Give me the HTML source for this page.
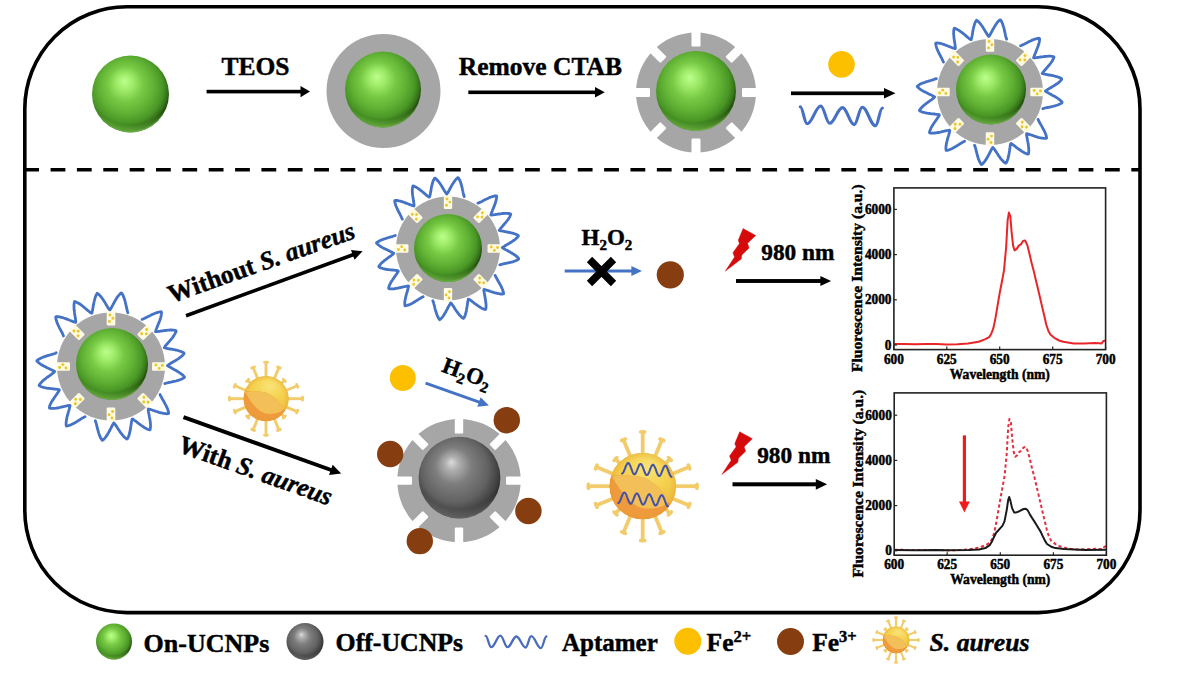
<!DOCTYPE html>
<html><head><meta charset="utf-8"><style>
html,body{margin:0;padding:0;background:#fff;}
svg{display:block;}
.b{font-family:"Liberation Serif",serif;font-weight:bold;fill:#000;stroke:#000;stroke-width:0.45px;}
.bi{font-family:"Liberation Serif",serif;font-weight:bold;font-style:italic;fill:#000;stroke:#000;stroke-width:0.45px;}
</style></head><body>
<svg width="1180" height="675" viewBox="0 0 1180 675">
<defs>
<radialGradient id="gs" cx="0.46" cy="0.43" r="0.58" fx="0.42" fy="0.33">
<stop offset="0" stop-color="#bcff8c"/><stop offset="0.18" stop-color="#a0ec6a"/><stop offset="0.4" stop-color="#77c944"/>
<stop offset="0.62" stop-color="#60b134"/><stop offset="0.8" stop-color="#4a9726"/><stop offset="0.9" stop-color="#36761a"/><stop offset="0.96" stop-color="#224e0d"/><stop offset="1" stop-color="#2c6414"/></radialGradient>
<radialGradient id="grim" cx="0.5" cy="0.3" r="0.75">
<stop offset="0.8" stop-color="#8ee05a" stop-opacity="0"/><stop offset="0.93" stop-color="#8ee05a" stop-opacity="0.7"/><stop offset="1" stop-color="#8ee05a" stop-opacity="0.2"/></radialGradient>
<radialGradient id="ks" cx="0.46" cy="0.43" r="0.58" fx="0.4" fy="0.31">
<stop offset="0" stop-color="#dcdcdc"/><stop offset="0.14" stop-color="#b0b0b0"/><stop offset="0.38" stop-color="#7e7e7e"/>
<stop offset="0.7" stop-color="#626262"/><stop offset="0.9" stop-color="#404040"/><stop offset="0.97" stop-color="#2e2e2e"/><stop offset="1" stop-color="#3a3a3a"/></radialGradient>
<radialGradient id="krim" cx="0.5" cy="0.3" r="0.75">
<stop offset="0.78" stop-color="#aaa" stop-opacity="0"/><stop offset="0.92" stop-color="#aaa" stop-opacity="0.4"/><stop offset="1" stop-color="#aaa" stop-opacity="0"/></radialGradient>
<radialGradient id="sab" cx="0.55" cy="0.35" r="0.6" fx="0.58" fy="0.3">
<stop offset="0" stop-color="#f9e378"/><stop offset="0.5" stop-color="#f5d250"/><stop offset="1" stop-color="#f0c040"/></radialGradient>
<radialGradient id="sarim" cx="0.5" cy="0.5" r="0.5">
<stop offset="0.8" stop-color="#e8a030" stop-opacity="0"/><stop offset="1" stop-color="#e09a30" stop-opacity="0.35"/></radialGradient>
</defs>
<rect width="1180" height="675" fill="#fff"/>
<rect x="24.8" y="6.8" width="1115.2" height="605.8" rx="102" ry="102" fill="none" stroke="#000" stroke-width="3.6"/>
<line x1="25" y1="169.7" x2="1140" y2="169.7" stroke="#000" stroke-width="3.6" stroke-dasharray="14.8 11.56" stroke-dashoffset="0.8"/>
<circle cx="130.5" cy="94" r="38.5" fill="url(#gs)"/>
<circle cx="130.5" cy="94" r="38.5" fill="url(#grim)"/>
<g transform="translate(206.60,91.60) rotate(0.000)"><rect x="0" y="-1.80" width="94.90" height="3.60" fill="#000"/><path d="M93.90,-5.60 L103.40,0 L93.90,5.60 Z" fill="#000"/></g>
<text x="255.5" y="74.6" class="b" font-size="25.5" text-anchor="middle">TEOS</text>
<circle cx="383.5" cy="91" r="57" fill="#a6a6a6"/>
<circle cx="383" cy="89.5" r="38" fill="url(#gs)"/>
<circle cx="383" cy="89.5" r="38" fill="url(#grim)"/>
<g transform="translate(468.30,92.30) rotate(0.000)"><rect x="0" y="-1.80" width="127.70" height="3.60" fill="#000"/><path d="M126.70,-5.20 L136.50,0 L126.70,5.20 Z" fill="#000"/></g>
<text x="540.4" y="74.7" class="b" font-size="25.5" text-anchor="middle">Remove CTAB</text>
<circle cx="696" cy="92.5" r="60" fill="#a6a6a6"/>
<g transform="translate(696,92.5) rotate(0)"><rect x="46.00" y="-4.50" width="15.50" height="9.00" rx="1.2" fill="#fff"/>
</g>
<g transform="translate(696,92.5) rotate(45)"><rect x="46.00" y="-4.50" width="15.50" height="9.00" rx="1.2" fill="#fff"/>
</g>
<g transform="translate(696,92.5) rotate(90)"><rect x="46.00" y="-4.50" width="15.50" height="9.00" rx="1.2" fill="#fff"/>
</g>
<g transform="translate(696,92.5) rotate(135)"><rect x="46.00" y="-4.50" width="15.50" height="9.00" rx="1.2" fill="#fff"/>
</g>
<g transform="translate(696,92.5) rotate(180)"><rect x="46.00" y="-4.50" width="15.50" height="9.00" rx="1.2" fill="#fff"/>
</g>
<g transform="translate(696,92.5) rotate(225)"><rect x="46.00" y="-4.50" width="15.50" height="9.00" rx="1.2" fill="#fff"/>
</g>
<g transform="translate(696,92.5) rotate(270)"><rect x="46.00" y="-4.50" width="15.50" height="9.00" rx="1.2" fill="#fff"/>
</g>
<g transform="translate(696,92.5) rotate(315)"><rect x="46.00" y="-4.50" width="15.50" height="9.00" rx="1.2" fill="#fff"/>
</g>
<circle cx="696" cy="91" r="40" fill="url(#gs)"/>
<circle cx="696" cy="91" r="40" fill="url(#grim)"/>
<circle cx="841.5" cy="64.4" r="13.3" fill="#fcc000"/>
<g transform="translate(791.00,93.30) rotate(0.000)"><rect x="0" y="-1.85" width="94.00" height="3.70" fill="#000"/><path d="M93.00,-5.20 L104.50,0 L93.00,5.20 Z" fill="#000"/></g>
<path d="M800.20,106.80 C802.82,106.80 804.48,123.80 807.10,123.80 C812.31,123.80 815.59,106.00 820.80,106.00 C824.14,106.00 826.26,123.30 829.60,123.30 C834.50,123.30 837.60,107.60 842.50,107.60 C846.95,107.60 849.75,124.60 854.20,124.60 C857.24,124.60 859.16,107.20 862.20,107.20 C867.25,107.20 870.45,125.80 875.50,125.80 C878.12,125.80 879.78,108.00 882.40,108.00" fill="none" stroke="#4670c4" stroke-width="3.1" stroke-linecap="round"/>
<circle cx="990" cy="92" r="53" fill="#a6a6a6"/>
<g transform="translate(990,92) rotate(0)"><rect x="40.28" y="-4.24" width="14.22" height="8.48" rx="1.2" fill="#fffbe2"/>
<circle cx="44.10" cy="-1.53" r="1.44" fill="#e9c62a"/><circle cx="47.28" cy="1.87" r="1.44" fill="#e9c62a"/><circle cx="50.46" cy="-1.02" r="1.44" fill="#e9c62a"/>
</g>
<g transform="translate(990,92) rotate(45)"><rect x="40.28" y="-4.24" width="14.22" height="8.48" rx="1.2" fill="#fffbe2"/>
<circle cx="44.10" cy="-1.53" r="1.44" fill="#e9c62a"/><circle cx="47.28" cy="1.87" r="1.44" fill="#e9c62a"/><circle cx="50.46" cy="-1.02" r="1.44" fill="#e9c62a"/>
</g>
<g transform="translate(990,92) rotate(90)"><rect x="40.28" y="-4.24" width="14.22" height="8.48" rx="1.2" fill="#fffbe2"/>
<circle cx="44.10" cy="-1.53" r="1.44" fill="#e9c62a"/><circle cx="47.28" cy="1.87" r="1.44" fill="#e9c62a"/><circle cx="50.46" cy="-1.02" r="1.44" fill="#e9c62a"/>
</g>
<g transform="translate(990,92) rotate(135)"><rect x="40.28" y="-4.24" width="14.22" height="8.48" rx="1.2" fill="#fffbe2"/>
<circle cx="44.10" cy="-1.53" r="1.44" fill="#e9c62a"/><circle cx="47.28" cy="1.87" r="1.44" fill="#e9c62a"/><circle cx="50.46" cy="-1.02" r="1.44" fill="#e9c62a"/>
</g>
<g transform="translate(990,92) rotate(180)"><rect x="40.28" y="-4.24" width="14.22" height="8.48" rx="1.2" fill="#fffbe2"/>
<circle cx="44.10" cy="-1.53" r="1.44" fill="#e9c62a"/><circle cx="47.28" cy="1.87" r="1.44" fill="#e9c62a"/><circle cx="50.46" cy="-1.02" r="1.44" fill="#e9c62a"/>
</g>
<g transform="translate(990,92) rotate(225)"><rect x="40.28" y="-4.24" width="14.22" height="8.48" rx="1.2" fill="#fffbe2"/>
<circle cx="44.10" cy="-1.53" r="1.44" fill="#e9c62a"/><circle cx="47.28" cy="1.87" r="1.44" fill="#e9c62a"/><circle cx="50.46" cy="-1.02" r="1.44" fill="#e9c62a"/>
</g>
<g transform="translate(990,92) rotate(270)"><rect x="40.28" y="-4.24" width="14.22" height="8.48" rx="1.2" fill="#fffbe2"/>
<circle cx="44.10" cy="-1.53" r="1.44" fill="#e9c62a"/><circle cx="47.28" cy="1.87" r="1.44" fill="#e9c62a"/><circle cx="50.46" cy="-1.02" r="1.44" fill="#e9c62a"/>
</g>
<g transform="translate(990,92) rotate(315)"><rect x="40.28" y="-4.24" width="14.22" height="8.48" rx="1.2" fill="#fffbe2"/>
<circle cx="44.10" cy="-1.53" r="1.44" fill="#e9c62a"/><circle cx="47.28" cy="1.87" r="1.44" fill="#e9c62a"/><circle cx="50.46" cy="-1.02" r="1.44" fill="#e9c62a"/>
</g>
<circle cx="991" cy="89.5" r="35" fill="url(#gs)"/>
<circle cx="991" cy="89.5" r="35" fill="url(#grim)"/>
<path d="M943.4,62.1 L943.1,61.3 L942.7,60.5 L942.3,59.6 L941.9,58.7 L941.4,57.7 L940.8,56.7 L940.3,55.6 L939.7,54.5 L939.1,53.4 L938.5,52.2 L938.0,51.1 L937.5,49.9 L937.0,48.8 L936.6,47.7 L936.3,46.6 L936.0,45.5 L935.8,44.5 L935.7,43.6 L936.0,43.0 L937.0,43.0 L938.0,43.1 L939.0,43.2 L940.1,43.4 L941.3,43.7 L942.4,44.0 L943.6,44.4 L944.8,44.8 L946.0,45.3 L947.2,45.7 L948.4,46.2 L949.5,46.6 L950.6,47.1 L951.6,47.5 L952.6,47.8 L953.5,48.2 L954.4,48.5 L955.2,48.7 L955.4,48.1 L955.3,47.2 L955.2,46.3 L955.1,45.3 L955.0,44.2 L954.8,43.1 L954.6,41.9 L954.4,40.7 L954.2,39.4 L954.0,38.1 L953.9,36.9 L953.8,35.6 L953.7,34.4 L953.6,33.2 L953.7,32.1 L953.7,31.0 L953.8,29.9 L954.0,29.0 L954.3,28.2 L955.2,28.5 L956.1,28.9 L957.1,29.3 L958.0,29.9 L959.0,30.5 L960.0,31.1 L961.0,31.9 L962.0,32.6 L963.0,33.4 L964.0,34.2 L965.0,35.0 L965.9,35.8 L966.8,36.6 L967.7,37.4 L968.5,38.0 L969.3,38.7 L970.1,39.2 L970.8,39.7 L971.2,39.6 L971.4,38.7 L971.7,37.8 L971.9,36.8 L972.1,35.8 L972.3,34.6 L972.5,33.5 L972.7,32.3 L972.9,31.0 L973.1,29.8 L973.4,28.5 L973.6,27.3 L974.0,26.1 L974.3,24.9 L974.7,23.8 L975.1,22.8 L975.5,21.9 L976.0,21.0 L976.5,20.2 L977.2,20.6 L977.9,21.2 L978.7,21.9 L979.4,22.7 L980.2,23.6 L980.9,24.5 L981.6,25.5 L982.4,26.5 L983.0,27.6 L983.7,28.7 L984.4,29.8 L985.0,30.8 L985.6,31.9 L986.2,32.8 L986.8,33.8 L987.3,34.6 L987.9,35.4 L988.4,36.1 L988.9,36.5 L989.4,35.8 L989.9,35.0 L990.4,34.1 L990.9,33.2 L991.4,32.2 L992.0,31.2 L992.5,30.1 L993.1,29.0 L993.8,27.9 L994.4,26.8 L995.1,25.7 L995.7,24.7 L996.4,23.7 L997.1,22.7 L997.8,21.9 L998.5,21.1 L999.3,20.4 L1000.0,19.8 L1000.6,20.0 L1001.1,20.8 L1001.6,21.7 L1002.1,22.7 L1002.5,23.8 L1002.9,24.9 L1003.3,26.0 L1003.6,27.2 L1004.0,28.5 L1004.3,29.7 L1004.5,30.9 L1004.8,32.2 L1005.1,33.3 L1005.3,34.5 L1005.5,35.6 L1005.8,36.6 L1006.0,37.5 L1006.3,38.4 L1006.6,39.1 M1020.5,45.8 L1021.3,45.5 L1022.1,45.1 L1023.0,44.7 L1023.9,44.3 L1024.9,43.8 L1026.0,43.2 L1027.1,42.7 L1028.2,42.1 L1029.3,41.5 L1030.5,41.0 L1031.6,40.4 L1032.8,39.9 L1033.9,39.5 L1035.0,39.1 L1036.1,38.8 L1037.2,38.5 L1038.2,38.4 L1039.1,38.2 L1039.6,38.7 L1039.6,39.6 L1039.5,40.6 L1039.3,41.7 L1039.1,42.8 L1038.8,44.0 L1038.4,45.1 L1038.0,46.3 L1037.6,47.5 L1037.1,48.7 L1036.6,49.9 L1036.2,51.1 L1035.7,52.2 L1035.3,53.3 L1034.8,54.3 L1034.5,55.3 L1034.1,56.2 L1033.8,57.1 L1033.6,57.9 L1034.4,57.8 L1035.3,57.8 L1036.3,57.7 L1037.4,57.5 L1038.5,57.4 L1039.6,57.2 L1040.8,57.0 L1042.1,56.8 L1043.3,56.7 L1044.6,56.5 L1045.9,56.4 L1047.1,56.3 L1048.3,56.2 L1049.5,56.2 L1050.7,56.2 L1051.7,56.3 L1052.7,56.5 L1053.7,56.7 L1054.0,57.2 L1053.7,58.1 L1053.2,59.1 L1052.7,60.0 L1052.2,61.0 L1051.5,62.0 L1050.8,63.0 L1050.0,64.0 L1049.3,65.0 L1048.4,66.0 L1047.6,66.9 L1046.8,67.9 L1046.0,68.8 L1045.2,69.7 L1044.5,70.5 L1043.8,71.3 L1043.2,72.1 L1042.7,72.8 L1042.2,73.5 L1043.0,73.8 L1043.9,74.0 L1044.8,74.2 L1045.9,74.4 L1047.0,74.6 L1048.1,74.8 L1049.3,75.0 L1050.5,75.2 L1051.8,75.5 L1053.1,75.7 L1054.3,76.0 L1055.5,76.3 L1056.7,76.6 L1057.8,77.0 L1058.9,77.4 L1059.9,77.8 L1060.8,78.3 L1061.6,78.8 L1061.7,79.4 L1061.1,80.1 L1060.4,80.9 L1059.7,81.6 L1058.8,82.4 L1057.9,83.1 L1056.9,83.8 L1055.8,84.5 L1054.8,85.2 L1053.7,85.9 L1052.6,86.6 L1051.5,87.2 L1050.5,87.8 L1049.5,88.4 L1048.5,89.0 L1047.6,89.5 L1046.8,90.1 L1046.0,90.6 L1045.4,91.1 L1046.1,91.6 L1046.8,92.1 L1047.6,92.6 L1048.6,93.1 L1049.5,93.6 L1050.6,94.2 L1051.6,94.8 L1052.7,95.4 L1053.9,96.0 L1055.0,96.6 L1056.1,97.3 L1057.1,97.9 L1058.1,98.6 L1059.1,99.3 L1060.0,100.1 L1060.8,100.8 L1061.5,101.5 L1062.1,102.2 L1062.0,102.9 L1061.2,103.4 L1060.3,103.9 L1059.3,104.3 L1058.3,104.8 L1057.2,105.2 L1056.0,105.5 L1054.8,105.9 L1053.6,106.2 L1052.3,106.5 L1051.1,106.8 L1049.8,107.0 L1048.7,107.3 L1047.5,107.5 L1046.4,107.7 L1045.4,108.0 L1044.4,108.2 L1043.6,108.5 L1042.8,108.7 M1038.1,119.4 L1038.4,120.2 L1038.8,121.0 L1039.2,121.8 L1039.7,122.7 L1040.3,123.6 L1040.8,124.6 L1041.4,125.6 L1042.0,126.7 L1042.6,127.8 L1043.2,128.9 L1043.8,130.0 L1044.4,131.1 L1044.9,132.2 L1045.3,133.2 L1045.7,134.3 L1046.1,135.3 L1046.3,136.3 L1046.5,137.3 L1046.6,138.2 L1045.8,138.4 L1044.9,138.4 L1043.9,138.3 L1042.8,138.2 L1041.7,138.1 L1040.6,137.8 L1039.4,137.6 L1038.2,137.3 L1037.0,136.9 L1035.8,136.6 L1034.6,136.2 L1033.5,135.8 L1032.4,135.4 L1031.3,135.0 L1030.2,134.7 L1029.3,134.4 L1028.3,134.1 L1027.5,133.9 L1026.7,133.7 L1026.5,134.3 L1026.6,135.1 L1026.7,136.1 L1026.9,137.1 L1027.1,138.1 L1027.3,139.2 L1027.5,140.3 L1027.7,141.5 L1028.0,142.7 L1028.2,144.0 L1028.4,145.2 L1028.5,146.4 L1028.7,147.6 L1028.7,148.8 L1028.8,149.9 L1028.8,151.0 L1028.7,152.1 L1028.6,153.1 L1028.4,154.0 L1027.8,154.2 L1026.9,153.9 L1026.0,153.5 L1025.0,153.1 L1024.0,152.6 L1023.0,152.0 L1022.0,151.4 L1021.0,150.7 L1020.0,150.0 L1018.9,149.3 L1017.9,148.6 L1017.0,147.8 L1016.0,147.1 L1015.1,146.4 L1014.2,145.7 L1013.4,145.1 L1012.6,144.5 L1011.8,144.0 L1011.1,143.5 L1010.7,143.7 L1010.5,144.5 L1010.3,145.4 L1010.1,146.4 L1010.0,147.4 L1009.8,148.5 L1009.6,149.7 L1009.5,150.9 L1009.3,152.1 L1009.1,153.3 L1008.9,154.5 L1008.6,155.7 L1008.4,156.9 L1008.1,158.1 L1007.8,159.2 L1007.4,160.2 L1007.0,161.2 L1006.6,162.1 L1006.1,162.9 L1005.5,163.2 L1004.8,162.7 L1004.0,162.1 L1003.2,161.4 L1002.5,160.6 L1001.7,159.8 L1000.9,158.8 L1000.2,157.9 L999.5,156.9 L998.7,155.9 L998.1,154.8 L997.4,153.8 L996.7,152.8 L996.1,151.8 L995.5,150.9 L994.9,150.0 L994.3,149.2 L993.7,148.4 L993.2,147.8 L992.7,147.5 L992.3,148.2 L991.8,148.9 L991.3,149.8 L990.8,150.7 L990.3,151.6 L989.8,152.7 L989.2,153.7 L988.7,154.8 L988.1,155.9 L987.5,157.0 L986.9,158.1 L986.2,159.1 L985.6,160.1 L984.9,161.1 L984.2,162.0 L983.6,162.8 L982.9,163.5 L982.2,164.2 L981.5,164.6 L980.9,163.8 L980.4,163.0 L979.9,162.1 L979.4,161.2 L979.0,160.1 L978.5,159.0 L978.1,157.9 L977.8,156.7 L977.4,155.5 L977.1,154.3 L976.8,153.1 L976.5,151.9 L976.2,150.8 L975.9,149.7 L975.7,148.7 L975.4,147.7 L975.1,146.8 L974.8,145.9 L974.5,145.2 M964.6,141.2 L963.9,141.6 L963.1,142.0 L962.3,142.4 L961.4,143.0 L960.5,143.5 L959.5,144.1 L958.5,144.8 L957.5,145.4 L956.5,146.1 L955.4,146.7 L954.3,147.3 L953.2,147.9 L952.2,148.5 L951.1,149.0 L950.1,149.4 L949.0,149.8 L948.1,150.1 L947.1,150.3 L946.2,150.5 L946.0,149.7 L945.9,148.8 L945.9,147.7 L946.0,146.7 L946.1,145.6 L946.3,144.4 L946.5,143.2 L946.8,142.0 L947.1,140.8 L947.4,139.6 L947.7,138.4 L948.0,137.3 L948.4,136.1 L948.7,135.0 L949.0,134.0 L949.3,133.0 L949.5,132.0 L949.7,131.1 L949.8,130.3 L949.2,130.2 L948.4,130.3 L947.5,130.5 L946.5,130.7 L945.5,130.9 L944.4,131.2 L943.2,131.4 L942.1,131.7 L940.9,132.0 L939.6,132.3 L938.4,132.5 L937.2,132.7 L936.0,132.9 L934.8,133.0 L933.7,133.1 L932.6,133.1 L931.5,133.1 L930.6,133.0 L929.6,132.9 L929.4,132.3 L929.7,131.4 L930.0,130.4 L930.4,129.4 L930.8,128.4 L931.3,127.4 L931.9,126.4 L932.6,125.3 L933.2,124.3 L933.9,123.2 L934.6,122.2 L935.3,121.2 L936.0,120.2 L936.7,119.3 L937.3,118.4 L937.9,117.5 L938.5,116.7 L938.9,115.9 L939.4,115.2 L939.2,114.7 L938.3,114.6 L937.4,114.4 L936.5,114.3 L935.4,114.2 L934.3,114.0 L933.2,113.9 L932.0,113.8 L930.8,113.7 L929.5,113.5 L928.3,113.4 L927.1,113.2 L925.9,112.9 L924.7,112.7 L923.6,112.4 L922.5,112.1 L921.5,111.7 L920.6,111.3 L919.8,110.9 L919.4,110.3 L919.9,109.6 L920.5,108.8 L921.2,108.0 L921.9,107.2 L922.8,106.4 L923.6,105.6 L924.6,104.8 L925.5,104.0 L926.5,103.3 L927.5,102.5 L928.5,101.8 L929.5,101.1 L930.5,100.4 L931.4,99.8 L932.2,99.2 L933.0,98.5 L933.7,98.0 L934.4,97.4 L934.7,96.9 L934.0,96.5 L933.2,96.0 L932.3,95.6 L931.4,95.1 L930.4,94.6 L929.4,94.2 L928.3,93.7 L927.2,93.1 L926.1,92.6 L925.0,92.0 L923.9,91.5 L922.8,90.9 L921.8,90.3 L920.8,89.6 L919.9,89.0 L919.0,88.3 L918.3,87.6 L917.6,87.0 L917.2,86.3 L917.9,85.7 L918.7,85.2 L919.5,84.6 L920.5,84.1 L921.5,83.6 L922.6,83.1 L923.7,82.7 L924.9,82.3 L926.0,81.9 L927.2,81.5 L928.4,81.2 L929.6,80.8 L930.7,80.5 L931.8,80.2 L932.8,79.9 L933.8,79.5 L934.7,79.2 L935.5,78.9 L936.3,78.6 " fill="none" stroke="#4472c4" stroke-width="2.8" stroke-linejoin="round" stroke-linecap="round"/>
<circle cx="111" cy="366.5" r="54" fill="#a6a6a6"/>
<g transform="translate(111,366.5) rotate(0)"><rect x="41.04" y="-4.32" width="14.46" height="8.64" rx="1.2" fill="#fffbe2"/>
<circle cx="44.93" cy="-1.56" r="1.47" fill="#e9c62a"/><circle cx="48.17" cy="1.90" r="1.47" fill="#e9c62a"/><circle cx="51.41" cy="-1.04" r="1.47" fill="#e9c62a"/>
</g>
<g transform="translate(111,366.5) rotate(45)"><rect x="41.04" y="-4.32" width="14.46" height="8.64" rx="1.2" fill="#fffbe2"/>
<circle cx="44.93" cy="-1.56" r="1.47" fill="#e9c62a"/><circle cx="48.17" cy="1.90" r="1.47" fill="#e9c62a"/><circle cx="51.41" cy="-1.04" r="1.47" fill="#e9c62a"/>
</g>
<g transform="translate(111,366.5) rotate(90)"><rect x="41.04" y="-4.32" width="14.46" height="8.64" rx="1.2" fill="#fffbe2"/>
<circle cx="44.93" cy="-1.56" r="1.47" fill="#e9c62a"/><circle cx="48.17" cy="1.90" r="1.47" fill="#e9c62a"/><circle cx="51.41" cy="-1.04" r="1.47" fill="#e9c62a"/>
</g>
<g transform="translate(111,366.5) rotate(135)"><rect x="41.04" y="-4.32" width="14.46" height="8.64" rx="1.2" fill="#fffbe2"/>
<circle cx="44.93" cy="-1.56" r="1.47" fill="#e9c62a"/><circle cx="48.17" cy="1.90" r="1.47" fill="#e9c62a"/><circle cx="51.41" cy="-1.04" r="1.47" fill="#e9c62a"/>
</g>
<g transform="translate(111,366.5) rotate(180)"><rect x="41.04" y="-4.32" width="14.46" height="8.64" rx="1.2" fill="#fffbe2"/>
<circle cx="44.93" cy="-1.56" r="1.47" fill="#e9c62a"/><circle cx="48.17" cy="1.90" r="1.47" fill="#e9c62a"/><circle cx="51.41" cy="-1.04" r="1.47" fill="#e9c62a"/>
</g>
<g transform="translate(111,366.5) rotate(225)"><rect x="41.04" y="-4.32" width="14.46" height="8.64" rx="1.2" fill="#fffbe2"/>
<circle cx="44.93" cy="-1.56" r="1.47" fill="#e9c62a"/><circle cx="48.17" cy="1.90" r="1.47" fill="#e9c62a"/><circle cx="51.41" cy="-1.04" r="1.47" fill="#e9c62a"/>
</g>
<g transform="translate(111,366.5) rotate(270)"><rect x="41.04" y="-4.32" width="14.46" height="8.64" rx="1.2" fill="#fffbe2"/>
<circle cx="44.93" cy="-1.56" r="1.47" fill="#e9c62a"/><circle cx="48.17" cy="1.90" r="1.47" fill="#e9c62a"/><circle cx="51.41" cy="-1.04" r="1.47" fill="#e9c62a"/>
</g>
<g transform="translate(111,366.5) rotate(315)"><rect x="41.04" y="-4.32" width="14.46" height="8.64" rx="1.2" fill="#fffbe2"/>
<circle cx="44.93" cy="-1.56" r="1.47" fill="#e9c62a"/><circle cx="48.17" cy="1.90" r="1.47" fill="#e9c62a"/><circle cx="51.41" cy="-1.04" r="1.47" fill="#e9c62a"/>
</g>
<circle cx="112" cy="364" r="36" fill="url(#gs)"/>
<circle cx="112" cy="364" r="36" fill="url(#grim)"/>
<path d="M63.5,336.0 L63.2,335.2 L62.9,334.4 L62.4,333.5 L62.0,332.5 L61.4,331.5 L60.9,330.5 L60.3,329.4 L59.7,328.3 L59.1,327.1 L58.6,326.0 L58.0,324.8 L57.5,323.6 L57.0,322.5 L56.6,321.3 L56.3,320.2 L56.0,319.2 L55.8,318.1 L55.7,317.2 L56.0,316.6 L57.0,316.6 L58.0,316.7 L59.1,316.8 L60.2,317.0 L61.3,317.3 L62.5,317.6 L63.7,318.0 L65.0,318.4 L66.2,318.9 L67.4,319.3 L68.6,319.8 L69.7,320.3 L70.8,320.7 L71.9,321.1 L72.9,321.5 L73.9,321.9 L74.8,322.1 L75.6,322.4 L75.8,321.8 L75.7,320.9 L75.6,319.9 L75.5,318.9 L75.3,317.8 L75.1,316.6 L74.9,315.4 L74.7,314.2 L74.5,312.9 L74.4,311.6 L74.2,310.3 L74.1,309.1 L74.0,307.8 L74.0,306.6 L74.0,305.4 L74.0,304.3 L74.2,303.3 L74.3,302.3 L74.7,301.5 L75.6,301.8 L76.5,302.2 L77.5,302.7 L78.4,303.2 L79.4,303.8 L80.5,304.5 L81.5,305.2 L82.5,306.0 L83.5,306.8 L84.5,307.6 L85.5,308.5 L86.5,309.3 L87.4,310.1 L88.3,310.8 L89.1,311.5 L89.9,312.2 L90.7,312.7 L91.4,313.2 L91.9,313.1 L92.1,312.2 L92.3,311.3 L92.5,310.3 L92.7,309.2 L92.9,308.1 L93.1,306.9 L93.3,305.6 L93.6,304.4 L93.8,303.1 L94.1,301.8 L94.3,300.6 L94.7,299.4 L95.0,298.2 L95.4,297.1 L95.8,296.0 L96.2,295.0 L96.7,294.1 L97.2,293.3 L97.9,293.7 L98.7,294.4 L99.5,295.1 L100.2,295.9 L101.0,296.8 L101.7,297.7 L102.5,298.8 L103.2,299.8 L103.9,300.9 L104.6,302.0 L105.3,303.1 L105.9,304.2 L106.5,305.2 L107.1,306.2 L107.7,307.2 L108.3,308.1 L108.8,308.9 L109.4,309.6 L109.9,309.9 L110.4,309.2 L110.9,308.4 L111.4,307.6 L111.9,306.6 L112.4,305.6 L113.0,304.6 L113.6,303.5 L114.2,302.3 L114.8,301.2 L115.5,300.1 L116.2,299.0 L116.8,297.9 L117.5,296.9 L118.3,295.9 L119.0,295.1 L119.7,294.3 L120.4,293.5 L121.2,292.9 L121.8,293.2 L122.3,294.0 L122.8,294.9 L123.3,295.9 L123.7,297.0 L124.1,298.1 L124.5,299.3 L124.9,300.5 L125.2,301.8 L125.5,303.0 L125.8,304.3 L126.1,305.5 L126.3,306.7 L126.6,307.9 L126.8,309.0 L127.1,310.0 L127.3,311.0 L127.6,311.9 L127.9,312.7 M142.1,319.4 L142.9,319.1 L143.7,318.7 L144.6,318.3 L145.6,317.9 L146.6,317.3 L147.7,316.8 L148.8,316.2 L149.9,315.7 L151.1,315.1 L152.2,314.5 L153.4,314.0 L154.6,313.5 L155.8,313.0 L156.9,312.6 L158.0,312.3 L159.1,312.0 L160.1,311.8 L161.1,311.7 L161.5,312.2 L161.5,313.1 L161.4,314.2 L161.2,315.3 L161.0,316.4 L160.7,317.6 L160.3,318.8 L159.9,320.0 L159.5,321.2 L159.0,322.4 L158.5,323.6 L158.0,324.8 L157.6,325.9 L157.1,327.0 L156.7,328.1 L156.3,329.1 L155.9,330.0 L155.7,330.9 L155.4,331.7 L156.3,331.7 L157.2,331.6 L158.2,331.5 L159.3,331.4 L160.4,331.2 L161.6,331.0 L162.8,330.9 L164.0,330.7 L165.3,330.5 L166.6,330.3 L167.9,330.2 L169.2,330.1 L170.4,330.0 L171.7,330.0 L172.8,330.1 L173.9,330.1 L174.9,330.3 L175.9,330.5 L176.2,331.1 L175.9,332.0 L175.4,332.9 L174.9,333.9 L174.3,334.9 L173.7,335.9 L173.0,336.9 L172.2,338.0 L171.4,339.0 L170.5,340.0 L169.7,341.0 L168.9,341.9 L168.0,342.9 L167.3,343.8 L166.5,344.6 L165.8,345.4 L165.2,346.2 L164.7,347.0 L164.2,347.7 L165.0,347.9 L165.9,348.1 L166.9,348.4 L167.9,348.6 L169.0,348.8 L170.2,349.0 L171.4,349.2 L172.7,349.4 L174.0,349.6 L175.2,349.9 L176.5,350.2 L177.8,350.5 L179.0,350.8 L180.1,351.2 L181.2,351.6 L182.2,352.0 L183.1,352.5 L184.0,353.0 L184.1,353.6 L183.5,354.4 L182.8,355.2 L182.0,355.9 L181.1,356.7 L180.1,357.4 L179.1,358.2 L178.1,358.9 L177.0,359.6 L175.9,360.3 L174.8,361.0 L173.7,361.6 L172.6,362.2 L171.6,362.8 L170.6,363.4 L169.7,364.0 L168.8,364.5 L168.1,365.1 L167.4,365.6 L168.1,366.1 L168.9,366.6 L169.7,367.1 L170.7,367.6 L171.7,368.1 L172.7,368.7 L173.8,369.3 L174.9,369.9 L176.1,370.5 L177.2,371.2 L178.3,371.9 L179.4,372.6 L180.4,373.3 L181.4,374.0 L182.3,374.7 L183.1,375.4 L183.8,376.2 L184.5,376.9 L184.4,377.6 L183.5,378.1 L182.6,378.6 L181.6,379.1 L180.6,379.5 L179.4,379.9 L178.2,380.3 L177.0,380.6 L175.8,381.0 L174.5,381.3 L173.2,381.5 L172.0,381.8 L170.8,382.1 L169.6,382.3 L168.5,382.5 L167.4,382.8 L166.5,383.0 L165.6,383.3 L164.8,383.6 M160.0,394.5 L160.3,395.2 L160.7,396.0 L161.2,396.9 L161.7,397.8 L162.2,398.7 L162.8,399.7 L163.4,400.8 L164.0,401.8 L164.6,402.9 L165.2,404.1 L165.8,405.2 L166.4,406.3 L166.9,407.4 L167.4,408.5 L167.8,409.6 L168.1,410.6 L168.4,411.7 L168.6,412.6 L168.7,413.5 L167.9,413.7 L166.9,413.8 L165.9,413.7 L164.8,413.6 L163.7,413.4 L162.5,413.2 L161.3,412.9 L160.1,412.6 L158.9,412.3 L157.7,411.9 L156.5,411.5 L155.3,411.1 L154.2,410.7 L153.1,410.4 L152.0,410.0 L151.0,409.7 L150.1,409.4 L149.2,409.2 L148.3,409.0 L148.2,409.6 L148.3,410.5 L148.4,411.4 L148.6,412.4 L148.8,413.5 L149.0,414.6 L149.2,415.8 L149.4,417.0 L149.7,418.2 L149.9,419.4 L150.1,420.7 L150.3,421.9 L150.4,423.2 L150.5,424.4 L150.5,425.5 L150.5,426.7 L150.4,427.7 L150.3,428.7 L150.1,429.6 L149.5,429.8 L148.6,429.6 L147.6,429.2 L146.7,428.8 L145.7,428.2 L144.6,427.7 L143.6,427.0 L142.6,426.3 L141.5,425.6 L140.5,424.9 L139.5,424.1 L138.5,423.4 L137.5,422.6 L136.6,421.9 L135.7,421.2 L134.8,420.6 L134.0,420.0 L133.3,419.5 L132.5,419.0 L132.1,419.2 L131.9,420.0 L131.7,420.9 L131.5,421.9 L131.3,423.0 L131.2,424.1 L131.0,425.3 L130.8,426.5 L130.6,427.7 L130.4,428.9 L130.2,430.2 L130.0,431.4 L129.7,432.7 L129.4,433.8 L129.1,435.0 L128.7,436.0 L128.3,437.0 L127.9,437.9 L127.4,438.8 L126.8,439.1 L126.0,438.5 L125.3,437.9 L124.5,437.2 L123.7,436.4 L122.9,435.5 L122.2,434.6 L121.4,433.6 L120.6,432.6 L119.9,431.6 L119.2,430.5 L118.5,429.5 L117.8,428.5 L117.2,427.5 L116.6,426.5 L116.0,425.6 L115.4,424.8 L114.8,424.0 L114.3,423.3 L113.8,423.0 L113.3,423.7 L112.8,424.5 L112.3,425.4 L111.8,426.3 L111.3,427.3 L110.8,428.3 L110.2,429.4 L109.7,430.5 L109.1,431.6 L108.5,432.7 L107.8,433.8 L107.2,434.9 L106.5,435.9 L105.8,436.9 L105.1,437.8 L104.4,438.6 L103.7,439.4 L103.0,440.0 L102.3,440.4 L101.8,439.7 L101.2,438.9 L100.7,438.0 L100.2,437.0 L99.8,435.9 L99.3,434.8 L98.9,433.6 L98.5,432.4 L98.2,431.2 L97.9,430.0 L97.5,428.8 L97.2,427.6 L96.9,426.4 L96.7,425.3 L96.4,424.2 L96.1,423.2 L95.8,422.3 L95.6,421.5 L95.3,420.7 M85.1,416.6 L84.4,417.0 L83.6,417.4 L82.7,417.9 L81.9,418.4 L80.9,419.0 L79.9,419.6 L78.9,420.3 L77.9,420.9 L76.8,421.6 L75.7,422.3 L74.6,422.9 L73.5,423.5 L72.4,424.1 L71.4,424.6 L70.3,425.0 L69.3,425.4 L68.3,425.7 L67.3,425.9 L66.4,426.1 L66.2,425.3 L66.1,424.3 L66.1,423.3 L66.2,422.2 L66.3,421.1 L66.5,419.9 L66.7,418.7 L66.9,417.5 L67.2,416.2 L67.6,415.0 L67.9,413.8 L68.2,412.6 L68.6,411.4 L68.9,410.3 L69.2,409.3 L69.5,408.2 L69.7,407.3 L69.9,406.4 L70.1,405.6 L69.5,405.4 L68.6,405.5 L67.7,405.7 L66.7,405.9 L65.6,406.2 L64.5,406.4 L63.3,406.7 L62.2,407.0 L60.9,407.2 L59.7,407.5 L58.4,407.8 L57.2,408.0 L56.0,408.2 L54.8,408.3 L53.6,408.4 L52.5,408.4 L51.4,408.4 L50.4,408.3 L49.5,408.2 L49.3,407.5 L49.5,406.6 L49.8,405.6 L50.2,404.6 L50.7,403.6 L51.2,402.6 L51.8,401.5 L52.5,400.4 L53.2,399.4 L53.9,398.3 L54.6,397.3 L55.3,396.3 L56.0,395.3 L56.7,394.3 L57.3,393.4 L57.9,392.5 L58.5,391.7 L59.0,390.9 L59.4,390.1 L59.2,389.7 L58.4,389.5 L57.4,389.3 L56.4,389.2 L55.4,389.1 L54.3,389.0 L53.1,388.8 L51.9,388.7 L50.6,388.6 L49.4,388.4 L48.1,388.3 L46.9,388.1 L45.6,387.8 L44.5,387.6 L43.3,387.3 L42.2,387.0 L41.2,386.6 L40.3,386.2 L39.4,385.8 L39.1,385.2 L39.6,384.4 L40.2,383.6 L40.9,382.8 L41.7,382.0 L42.5,381.1 L43.4,380.3 L44.3,379.5 L45.3,378.8 L46.3,378.0 L47.3,377.2 L48.4,376.5 L49.4,375.8 L50.3,375.1 L51.3,374.4 L52.1,373.8 L52.9,373.2 L53.7,372.6 L54.4,372.0 L54.6,371.5 L53.9,371.0 L53.1,370.6 L52.2,370.1 L51.3,369.7 L50.3,369.2 L49.2,368.7 L48.1,368.2 L47.0,367.7 L45.9,367.1 L44.7,366.5 L43.6,366.0 L42.5,365.3 L41.5,364.7 L40.5,364.1 L39.5,363.4 L38.7,362.7 L37.9,362.1 L37.2,361.4 L36.8,360.7 L37.5,360.1 L38.3,359.5 L39.2,359.0 L40.2,358.5 L41.2,358.0 L42.3,357.5 L43.5,357.0 L44.6,356.6 L45.8,356.2 L47.0,355.8 L48.3,355.4 L49.4,355.1 L50.6,354.8 L51.7,354.4 L52.8,354.1 L53.7,353.8 L54.7,353.5 L55.5,353.2 L56.2,352.8 " fill="none" stroke="#4472c4" stroke-width="2.8" stroke-linejoin="round" stroke-linecap="round"/>
<g transform="translate(186.00,315.80) rotate(-20.092)"><rect x="0" y="-1.80" width="178.54" height="3.60" fill="#000"/><path d="M177.54,-5.20 L188.04,0 L177.54,5.20 Z" fill="#000"/></g>
<g transform="translate(183.50,417.20) rotate(19.679)"><rect x="0" y="-1.95" width="157.48" height="3.90" fill="#000"/><path d="M156.48,-5.40 L167.48,0 L156.48,5.40 Z" fill="#000"/></g>
<text transform="translate(171.5,303.2) rotate(-19.5)" class="b" font-size="25.6">Without <tspan class="bi">S. aureus</tspan></text>
<text transform="translate(177,451.5) rotate(19.6)" class="b" font-size="25.6">With <tspan class="bi">S. aureus</tspan></text>
<circle cx="448" cy="248.5" r="52" fill="#a6a6a6"/>
<g transform="translate(448,248.5) rotate(0)"><rect x="39.52" y="-4.16" width="13.98" height="8.32" rx="1.2" fill="#fffbe2"/>
<circle cx="43.26" cy="-1.50" r="1.41" fill="#e9c62a"/><circle cx="46.38" cy="1.83" r="1.41" fill="#e9c62a"/><circle cx="49.50" cy="-1.00" r="1.41" fill="#e9c62a"/>
</g>
<g transform="translate(448,248.5) rotate(45)"><rect x="39.52" y="-4.16" width="13.98" height="8.32" rx="1.2" fill="#fffbe2"/>
<circle cx="43.26" cy="-1.50" r="1.41" fill="#e9c62a"/><circle cx="46.38" cy="1.83" r="1.41" fill="#e9c62a"/><circle cx="49.50" cy="-1.00" r="1.41" fill="#e9c62a"/>
</g>
<g transform="translate(448,248.5) rotate(90)"><rect x="39.52" y="-4.16" width="13.98" height="8.32" rx="1.2" fill="#fffbe2"/>
<circle cx="43.26" cy="-1.50" r="1.41" fill="#e9c62a"/><circle cx="46.38" cy="1.83" r="1.41" fill="#e9c62a"/><circle cx="49.50" cy="-1.00" r="1.41" fill="#e9c62a"/>
</g>
<g transform="translate(448,248.5) rotate(135)"><rect x="39.52" y="-4.16" width="13.98" height="8.32" rx="1.2" fill="#fffbe2"/>
<circle cx="43.26" cy="-1.50" r="1.41" fill="#e9c62a"/><circle cx="46.38" cy="1.83" r="1.41" fill="#e9c62a"/><circle cx="49.50" cy="-1.00" r="1.41" fill="#e9c62a"/>
</g>
<g transform="translate(448,248.5) rotate(180)"><rect x="39.52" y="-4.16" width="13.98" height="8.32" rx="1.2" fill="#fffbe2"/>
<circle cx="43.26" cy="-1.50" r="1.41" fill="#e9c62a"/><circle cx="46.38" cy="1.83" r="1.41" fill="#e9c62a"/><circle cx="49.50" cy="-1.00" r="1.41" fill="#e9c62a"/>
</g>
<g transform="translate(448,248.5) rotate(225)"><rect x="39.52" y="-4.16" width="13.98" height="8.32" rx="1.2" fill="#fffbe2"/>
<circle cx="43.26" cy="-1.50" r="1.41" fill="#e9c62a"/><circle cx="46.38" cy="1.83" r="1.41" fill="#e9c62a"/><circle cx="49.50" cy="-1.00" r="1.41" fill="#e9c62a"/>
</g>
<g transform="translate(448,248.5) rotate(270)"><rect x="39.52" y="-4.16" width="13.98" height="8.32" rx="1.2" fill="#fffbe2"/>
<circle cx="43.26" cy="-1.50" r="1.41" fill="#e9c62a"/><circle cx="46.38" cy="1.83" r="1.41" fill="#e9c62a"/><circle cx="49.50" cy="-1.00" r="1.41" fill="#e9c62a"/>
</g>
<g transform="translate(448,248.5) rotate(315)"><rect x="39.52" y="-4.16" width="13.98" height="8.32" rx="1.2" fill="#fffbe2"/>
<circle cx="43.26" cy="-1.50" r="1.41" fill="#e9c62a"/><circle cx="46.38" cy="1.83" r="1.41" fill="#e9c62a"/><circle cx="49.50" cy="-1.00" r="1.41" fill="#e9c62a"/>
</g>
<circle cx="448" cy="248" r="34" fill="url(#gs)"/>
<circle cx="448" cy="248" r="34" fill="url(#grim)"/>
<path d="M402.3,219.1 L402.0,218.4 L401.6,217.6 L401.2,216.7 L400.8,215.8 L400.3,214.8 L399.8,213.8 L399.2,212.8 L398.6,211.7 L398.1,210.6 L397.5,209.5 L397.0,208.3 L396.5,207.2 L396.0,206.1 L395.6,205.0 L395.3,203.9 L395.0,202.9 L394.9,201.9 L394.7,201.0 L395.0,200.4 L396.0,200.4 L396.9,200.5 L398.0,200.6 L399.1,200.9 L400.2,201.1 L401.3,201.4 L402.5,201.8 L403.7,202.2 L404.8,202.6 L406.0,203.1 L407.1,203.5 L408.3,204.0 L409.3,204.4 L410.3,204.8 L411.3,205.2 L412.2,205.5 L413.1,205.8 L413.9,206.0 L414.1,205.4 L414.0,204.6 L413.9,203.7 L413.8,202.7 L413.6,201.6 L413.4,200.5 L413.3,199.3 L413.1,198.1 L412.9,196.9 L412.7,195.7 L412.6,194.4 L412.4,193.2 L412.4,192.0 L412.3,190.8 L412.3,189.7 L412.4,188.6 L412.5,187.6 L412.7,186.7 L413.0,185.9 L413.9,186.2 L414.8,186.6 L415.7,187.0 L416.6,187.5 L417.6,188.1 L418.6,188.8 L419.6,189.5 L420.6,190.3 L421.6,191.0 L422.5,191.8 L423.5,192.6 L424.4,193.4 L425.3,194.2 L426.1,194.9 L426.9,195.6 L427.7,196.2 L428.4,196.7 L429.1,197.2 L429.6,197.0 L429.8,196.2 L430.0,195.3 L430.2,194.4 L430.4,193.3 L430.6,192.2 L430.8,191.1 L431.0,189.9 L431.2,188.7 L431.4,187.4 L431.7,186.2 L432.0,185.0 L432.3,183.8 L432.6,182.7 L433.0,181.6 L433.3,180.6 L433.8,179.7 L434.2,178.8 L434.7,178.1 L435.4,178.4 L436.2,179.0 L436.9,179.7 L437.6,180.5 L438.4,181.4 L439.1,182.3 L439.8,183.3 L440.5,184.3 L441.2,185.3 L441.8,186.4 L442.5,187.4 L443.1,188.5 L443.7,189.5 L444.3,190.5 L444.9,191.4 L445.4,192.2 L445.9,193.0 L446.4,193.7 L446.9,194.0 L447.4,193.3 L447.9,192.6 L448.4,191.7 L448.9,190.8 L449.4,189.9 L449.9,188.8 L450.5,187.8 L451.1,186.7 L451.7,185.6 L452.3,184.5 L453.0,183.5 L453.6,182.5 L454.3,181.5 L455.0,180.6 L455.7,179.7 L456.4,178.9 L457.1,178.2 L457.8,177.6 L458.4,177.9 L458.9,178.7 L459.4,179.6 L459.8,180.5 L460.3,181.5 L460.7,182.6 L461.0,183.8 L461.4,185.0 L461.7,186.2 L462.0,187.4 L462.3,188.6 L462.5,189.8 L462.8,190.9 L463.0,192.1 L463.2,193.1 L463.5,194.1 L463.7,195.0 L464.0,195.9 L464.2,196.6 M477.9,203.1 L478.7,202.9 L479.5,202.5 L480.4,202.1 L481.3,201.7 L482.3,201.2 L483.3,200.6 L484.4,200.1 L485.4,199.5 L486.6,199.0 L487.7,198.4 L488.8,197.9 L490.0,197.4 L491.1,197.0 L492.2,196.6 L493.3,196.3 L494.3,196.0 L495.3,195.9 L496.2,195.8 L496.7,196.2 L496.6,197.1 L496.5,198.1 L496.4,199.2 L496.1,200.2 L495.8,201.4 L495.5,202.5 L495.1,203.7 L494.7,204.9 L494.2,206.0 L493.8,207.2 L493.3,208.3 L492.8,209.4 L492.4,210.5 L492.0,211.5 L491.6,212.5 L491.3,213.4 L491.0,214.2 L490.8,215.0 L491.6,215.0 L492.5,214.9 L493.4,214.8 L494.5,214.7 L495.5,214.5 L496.7,214.4 L497.9,214.2 L499.1,214.0 L500.3,213.8 L501.6,213.7 L502.8,213.5 L504.0,213.4 L505.2,213.4 L506.4,213.4 L507.5,213.4 L508.6,213.5 L509.6,213.6 L510.5,213.8 L510.8,214.4 L510.4,215.3 L510.0,216.2 L509.6,217.1 L509.0,218.1 L508.4,219.0 L507.7,220.0 L506.9,221.0 L506.1,222.0 L505.3,223.0 L504.5,223.9 L503.7,224.8 L502.9,225.7 L502.2,226.6 L501.5,227.4 L500.8,228.2 L500.2,229.0 L499.7,229.7 L499.2,230.4 L500.0,230.6 L500.9,230.8 L501.8,231.0 L502.8,231.2 L503.9,231.4 L505.0,231.6 L506.2,231.8 L507.4,232.0 L508.6,232.3 L509.9,232.5 L511.1,232.8 L512.3,233.1 L513.4,233.4 L514.5,233.8 L515.6,234.2 L516.6,234.6 L517.4,235.0 L518.3,235.5 L518.4,236.1 L517.8,236.9 L517.1,237.6 L516.3,238.3 L515.5,239.1 L514.6,239.8 L513.6,240.5 L512.6,241.2 L511.6,241.9 L510.5,242.5 L509.4,243.2 L508.4,243.8 L507.3,244.4 L506.3,245.0 L505.4,245.5 L504.5,246.1 L503.7,246.6 L503.0,247.1 L502.3,247.6 L503.0,248.1 L503.7,248.6 L504.6,249.0 L505.5,249.6 L506.4,250.1 L507.4,250.6 L508.5,251.2 L509.6,251.8 L510.6,252.4 L511.7,253.0 L512.8,253.7 L513.8,254.3 L514.8,255.0 L515.8,255.7 L516.6,256.4 L517.4,257.1 L518.1,257.8 L518.7,258.5 L518.6,259.2 L517.9,259.7 L517.0,260.1 L516.0,260.6 L515.0,261.0 L513.9,261.4 L512.8,261.8 L511.6,262.1 L510.4,262.4 L509.1,262.7 L507.9,263.0 L506.7,263.2 L505.5,263.5 L504.4,263.7 L503.3,263.9 L502.3,264.2 L501.4,264.4 L500.6,264.7 L499.8,264.9 M495.2,275.4 L495.5,276.2 L495.9,276.9 L496.3,277.8 L496.8,278.6 L497.3,279.6 L497.9,280.5 L498.4,281.5 L499.0,282.5 L499.6,283.6 L500.2,284.7 L500.8,285.7 L501.3,286.8 L501.8,287.9 L502.3,289.0 L502.7,290.0 L503.0,291.0 L503.3,292.0 L503.4,292.9 L503.6,293.8 L502.8,294.0 L501.9,294.0 L500.9,294.0 L499.8,293.9 L498.7,293.7 L497.6,293.5 L496.5,293.2 L495.3,292.9 L494.1,292.6 L493.0,292.2 L491.8,291.8 L490.7,291.5 L489.6,291.1 L488.5,290.7 L487.5,290.4 L486.5,290.1 L485.6,289.8 L484.8,289.6 L484.0,289.4 L483.8,290.0 L483.9,290.8 L484.0,291.7 L484.2,292.7 L484.4,293.7 L484.6,294.8 L484.8,295.9 L485.0,297.1 L485.2,298.3 L485.4,299.5 L485.6,300.7 L485.8,301.9 L485.9,303.1 L486.0,304.2 L486.1,305.4 L486.1,306.4 L486.0,307.4 L485.9,308.4 L485.7,309.3 L485.1,309.5 L484.2,309.2 L483.3,308.9 L482.3,308.5 L481.4,308.0 L480.4,307.4 L479.4,306.8 L478.4,306.1 L477.4,305.4 L476.4,304.7 L475.4,304.0 L474.5,303.3 L473.5,302.5 L472.6,301.8 L471.8,301.2 L471.0,300.6 L470.2,300.0 L469.4,299.5 L468.7,299.1 L468.3,299.2 L468.1,300.0 L467.9,300.9 L467.7,301.9 L467.6,302.9 L467.4,304.0 L467.3,305.1 L467.1,306.2 L466.9,307.4 L466.7,308.6 L466.5,309.8 L466.3,311.0 L466.0,312.2 L465.7,313.3 L465.4,314.4 L465.1,315.4 L464.7,316.4 L464.3,317.3 L463.8,318.1 L463.2,318.4 L462.5,317.9 L461.7,317.3 L461.0,316.6 L460.2,315.8 L459.5,315.0 L458.7,314.1 L458.0,313.1 L457.3,312.2 L456.6,311.2 L455.9,310.2 L455.2,309.2 L454.6,308.2 L454.0,307.2 L453.4,306.3 L452.8,305.4 L452.2,304.6 L451.7,303.9 L451.2,303.2 L450.7,302.9 L450.2,303.6 L449.8,304.4 L449.3,305.2 L448.8,306.1 L448.3,307.0 L447.8,308.0 L447.3,309.0 L446.7,310.1 L446.1,311.2 L445.6,312.3 L444.9,313.3 L444.3,314.3 L443.7,315.3 L443.0,316.3 L442.4,317.1 L441.7,317.9 L441.0,318.7 L440.3,319.3 L439.6,319.7 L439.1,319.0 L438.6,318.2 L438.1,317.3 L437.6,316.4 L437.2,315.3 L436.8,314.3 L436.4,313.1 L436.0,312.0 L435.7,310.8 L435.3,309.6 L435.0,308.5 L434.7,307.3 L434.5,306.2 L434.2,305.1 L433.9,304.1 L433.7,303.1 L433.4,302.2 L433.1,301.4 L432.8,300.7 M423.1,296.8 L422.4,297.1 L421.6,297.5 L420.8,298.0 L419.9,298.5 L419.0,299.1 L418.1,299.7 L417.1,300.3 L416.1,300.9 L415.1,301.6 L414.0,302.2 L413.0,302.8 L411.9,303.4 L410.9,303.9 L409.8,304.4 L408.8,304.9 L407.8,305.2 L406.8,305.5 L405.9,305.7 L405.0,305.9 L404.8,305.1 L404.8,304.2 L404.8,303.2 L404.8,302.1 L404.9,301.1 L405.1,299.9 L405.3,298.8 L405.6,297.6 L405.9,296.4 L406.2,295.2 L406.5,294.0 L406.8,292.9 L407.2,291.8 L407.5,290.7 L407.8,289.7 L408.0,288.7 L408.2,287.8 L408.4,286.9 L408.6,286.1 L408.0,286.0 L407.2,286.1 L406.3,286.3 L405.3,286.5 L404.3,286.7 L403.2,286.9 L402.1,287.2 L401.0,287.5 L399.8,287.7 L398.6,288.0 L397.4,288.2 L396.2,288.4 L395.0,288.6 L393.9,288.8 L392.7,288.8 L391.7,288.9 L390.6,288.9 L389.7,288.8 L388.8,288.6 L388.6,288.0 L388.8,287.1 L389.1,286.2 L389.5,285.2 L389.9,284.2 L390.5,283.2 L391.0,282.2 L391.6,281.2 L392.3,280.2 L393.0,279.1 L393.7,278.1 L394.4,277.2 L395.0,276.2 L395.7,275.3 L396.3,274.4 L396.9,273.5 L397.4,272.7 L397.9,272.0 L398.3,271.2 L398.1,270.8 L397.3,270.6 L396.4,270.5 L395.5,270.4 L394.4,270.2 L393.4,270.1 L392.2,270.0 L391.1,269.9 L389.9,269.8 L388.7,269.6 L387.4,269.5 L386.2,269.3 L385.1,269.0 L383.9,268.8 L382.8,268.5 L381.8,268.2 L380.8,267.9 L379.9,267.5 L379.1,267.1 L378.8,266.5 L379.3,265.7 L379.8,265.0 L380.5,264.2 L381.2,263.4 L382.0,262.6 L382.9,261.8 L383.8,261.1 L384.7,260.3 L385.7,259.6 L386.7,258.8 L387.7,258.1 L388.6,257.4 L389.6,256.8 L390.5,256.1 L391.3,255.5 L392.1,254.9 L392.8,254.4 L393.4,253.8 L393.7,253.3 L393.0,252.9 L392.3,252.4 L391.4,252.0 L390.5,251.6 L389.5,251.1 L388.5,250.6 L387.5,250.1 L386.4,249.6 L385.3,249.1 L384.2,248.5 L383.1,248.0 L382.1,247.4 L381.1,246.8 L380.1,246.2 L379.2,245.5 L378.4,244.9 L377.6,244.2 L377.0,243.6 L376.5,242.9 L377.2,242.3 L378.0,241.8 L378.9,241.3 L379.8,240.8 L380.8,240.3 L381.9,239.8 L383.0,239.4 L384.1,239.0 L385.3,238.6 L386.4,238.2 L387.6,237.9 L388.7,237.5 L389.8,237.2 L390.9,236.9 L391.9,236.6 L392.9,236.3 L393.7,236.0 L394.5,235.7 L395.3,235.4 " fill="none" stroke="#4472c4" stroke-width="2.8" stroke-linejoin="round" stroke-linecap="round"/>
<g transform="translate(266,398.7) rotate(0.0)"><rect x="18.16" y="-1.45" width="19.64" height="2.90" fill="#f2cb6a"/><rect x="35.19" y="-2.90" width="2.61" height="5.80" rx="1.16" fill="#f2cb6a"/></g>
<g transform="translate(266,398.7) rotate(22.5)"><rect x="18.16" y="-1.45" width="16.92" height="2.90" fill="#f2cb6a"/><rect x="32.47" y="-2.90" width="2.61" height="5.80" rx="1.16" fill="#f2cb6a"/></g>
<g transform="translate(266,398.7) rotate(45.0)"><rect x="18.16" y="-1.45" width="9.07" height="2.90" fill="#f2cb6a"/><rect x="24.62" y="-2.90" width="2.61" height="5.80" rx="1.16" fill="#f2cb6a"/></g>
<g transform="translate(266,398.7) rotate(67.5)"><rect x="18.16" y="-1.45" width="16.92" height="2.90" fill="#f2cb6a"/><rect x="32.47" y="-2.90" width="2.61" height="5.80" rx="1.16" fill="#f2cb6a"/></g>
<g transform="translate(266,398.7) rotate(90.0)"><rect x="18.16" y="-1.45" width="19.64" height="2.90" fill="#f2cb6a"/><rect x="35.19" y="-2.90" width="2.61" height="5.80" rx="1.16" fill="#f2cb6a"/></g>
<g transform="translate(266,398.7) rotate(112.5)"><rect x="18.16" y="-1.45" width="16.92" height="2.90" fill="#f2cb6a"/><rect x="32.47" y="-2.90" width="2.61" height="5.80" rx="1.16" fill="#f2cb6a"/></g>
<g transform="translate(266,398.7) rotate(135.0)"><rect x="18.16" y="-1.45" width="9.07" height="2.90" fill="#f2cb6a"/><rect x="24.62" y="-2.90" width="2.61" height="5.80" rx="1.16" fill="#f2cb6a"/></g>
<g transform="translate(266,398.7) rotate(157.5)"><rect x="18.16" y="-1.45" width="16.92" height="2.90" fill="#f2cb6a"/><rect x="32.47" y="-2.90" width="2.61" height="5.80" rx="1.16" fill="#f2cb6a"/></g>
<g transform="translate(266,398.7) rotate(180.0)"><rect x="18.16" y="-1.45" width="19.64" height="2.90" fill="#f2cb6a"/><rect x="35.19" y="-2.90" width="2.61" height="5.80" rx="1.16" fill="#f2cb6a"/></g>
<g transform="translate(266,398.7) rotate(202.5)"><rect x="18.16" y="-1.45" width="16.92" height="2.90" fill="#f2cb6a"/><rect x="32.47" y="-2.90" width="2.61" height="5.80" rx="1.16" fill="#f2cb6a"/></g>
<g transform="translate(266,398.7) rotate(225.0)"><rect x="18.16" y="-1.45" width="9.07" height="2.90" fill="#f2cb6a"/><rect x="24.62" y="-2.90" width="2.61" height="5.80" rx="1.16" fill="#f2cb6a"/></g>
<g transform="translate(266,398.7) rotate(247.5)"><rect x="18.16" y="-1.45" width="16.92" height="2.90" fill="#f2cb6a"/><rect x="32.47" y="-2.90" width="2.61" height="5.80" rx="1.16" fill="#f2cb6a"/></g>
<g transform="translate(266,398.7) rotate(270.0)"><rect x="18.16" y="-1.45" width="19.64" height="2.90" fill="#f2cb6a"/><rect x="35.19" y="-2.90" width="2.61" height="5.80" rx="1.16" fill="#f2cb6a"/></g>
<g transform="translate(266,398.7) rotate(292.5)"><rect x="18.16" y="-1.45" width="16.92" height="2.90" fill="#f2cb6a"/><rect x="32.47" y="-2.90" width="2.61" height="5.80" rx="1.16" fill="#f2cb6a"/></g>
<g transform="translate(266,398.7) rotate(315.0)"><rect x="18.16" y="-1.45" width="9.07" height="2.90" fill="#f2cb6a"/><rect x="24.62" y="-2.90" width="2.61" height="5.80" rx="1.16" fill="#f2cb6a"/></g>
<g transform="translate(266,398.7) rotate(337.5)"><rect x="18.16" y="-1.45" width="16.92" height="2.90" fill="#f2cb6a"/><rect x="32.47" y="-2.90" width="2.61" height="5.80" rx="1.16" fill="#f2cb6a"/></g>
<clipPath id="sac1"><circle cx="266" cy="398.7" r="22.7"/></clipPath>
<g clip-path="url(#sac1)">
<circle cx="266" cy="398.7" r="22.7" fill="#ef9a3c"/>
<path d="M241.03,391.89 C252.38,390.53 261.46,391.44 266.91,393.02 C273.94,395.98 279.62,401.42 283.48,409.60 L290.97,414.59 L290.97,373.73 L241.03,373.73 Z" fill="url(#sab)"/>
<path d="M244.89,391.89 C252.38,390.53 261.46,391.44 266.91,393.02 C273.94,395.98 279.62,401.42 283.48,409.60 C279.62,413.68 270.54,414.59 265.32,413.45 C258.06,411.19 252.38,404.38 244.89,391.89 Z" fill="#f3bf58"/>
<circle cx="266" cy="398.7" r="22.7" fill="url(#sarim)"/>
</g>
<text x="581.5" y="244.6" class="b" font-size="23">H<tspan font-size="15" dy="5">2</tspan><tspan dy="-5">O</tspan><tspan font-size="15" dy="5">2</tspan></text>
<g transform="translate(564.70,271.00) rotate(0.000)"><rect x="0" y="-1.50" width="67.70" height="3.00" fill="#4472c4"/><path d="M66.70,-5.00 L77.20,0 L66.70,5.00 Z" fill="#4472c4"/></g>
<path d="M589.5,259.5 L613.5,283.5 M613.5,259.5 L589.5,283.5" stroke="#000" stroke-width="7.5" stroke-linecap="butt"/>
<circle cx="670.3" cy="274.8" r="13.6" fill="#863d0f"/>
<path d="M743.09,228.51 L755.72,235.44 L747.57,243.34 L749.04,247.90 L741.87,254.98 L741.22,259.05 L725.18,271.27 L734.54,257.02 L732.92,252.78 L739.43,243.58 L738.21,240.32 Z" fill="#d50a0a" stroke="#d50a0a" stroke-width="0.4" stroke-linejoin="round"/>
<text x="761.3" y="259.8" class="b" font-size="23.3">980 nm</text>
<g transform="translate(736.00,281.00) rotate(0.000)"><rect x="0" y="-1.95" width="85.40" height="3.90" fill="#000"/><path d="M84.40,-5.10 L95.10,0 L84.40,5.10 Z" fill="#000"/></g>
<circle cx="402.8" cy="378" r="13" fill="#fcc000"/>
<g transform="translate(425.60,383.20) rotate(19.407)"><rect x="0" y="-1.50" width="57.61" height="3.00" fill="#4472c4"/><path d="M56.61,-5.00 L67.11,0 L56.61,5.00 Z" fill="#4472c4"/></g>
<text transform="translate(440.8,371.2) rotate(20.5)" class="b" font-size="22.6">H<tspan font-size="15" dy="5">2</tspan><tspan dy="-5">O</tspan><tspan font-size="15" dy="5">2</tspan></text>
<circle cx="459" cy="480.6" r="61.7" fill="#a6a6a6"/>
<g transform="translate(459,480.6) rotate(0)"><rect x="47.00" y="-4.20" width="16.20" height="8.40" rx="1.2" fill="#fff"/>
</g>
<g transform="translate(459,480.6) rotate(45)"><rect x="47.00" y="-4.20" width="16.20" height="8.40" rx="1.2" fill="#fff"/>
</g>
<g transform="translate(459,480.6) rotate(90)"><rect x="47.00" y="-4.20" width="16.20" height="8.40" rx="1.2" fill="#fff"/>
</g>
<g transform="translate(459,480.6) rotate(135)"><rect x="47.00" y="-4.20" width="16.20" height="8.40" rx="1.2" fill="#fff"/>
</g>
<g transform="translate(459,480.6) rotate(180)"><rect x="47.00" y="-4.20" width="16.20" height="8.40" rx="1.2" fill="#fff"/>
</g>
<g transform="translate(459,480.6) rotate(225)"><rect x="47.00" y="-4.20" width="16.20" height="8.40" rx="1.2" fill="#fff"/>
</g>
<g transform="translate(459,480.6) rotate(270)"><rect x="47.00" y="-4.20" width="16.20" height="8.40" rx="1.2" fill="#fff"/>
</g>
<g transform="translate(459,480.6) rotate(315)"><rect x="47.00" y="-4.20" width="16.20" height="8.40" rx="1.2" fill="#fff"/>
</g>
<circle cx="459.5" cy="477.7" r="40.9" fill="url(#ks)"/>
<circle cx="459.5" cy="477.7" r="40.9" fill="url(#krim)"/>
<circle cx="506.8" cy="420.2" r="13.2" fill="#863d0f"/>
<circle cx="390.2" cy="454" r="13.2" fill="#863d0f"/>
<circle cx="528.4" cy="511" r="13.2" fill="#863d0f"/>
<circle cx="419.8" cy="541.1" r="13.2" fill="#863d0f"/>
<g transform="translate(642.7,486.2) rotate(0.0)"><rect x="26.72" y="-1.90" width="29.28" height="3.80" fill="#f2cb6a"/><rect x="52.58" y="-3.80" width="3.42" height="7.60" rx="1.52" fill="#f2cb6a"/></g>
<g transform="translate(642.7,486.2) rotate(22.5)"><rect x="26.72" y="-1.90" width="25.21" height="3.80" fill="#f2cb6a"/><rect x="48.51" y="-3.80" width="3.42" height="7.60" rx="1.52" fill="#f2cb6a"/></g>
<g transform="translate(642.7,486.2) rotate(45.0)"><rect x="26.72" y="-1.90" width="13.46" height="3.80" fill="#f2cb6a"/><rect x="36.76" y="-3.80" width="3.42" height="7.60" rx="1.52" fill="#f2cb6a"/></g>
<g transform="translate(642.7,486.2) rotate(67.5)"><rect x="26.72" y="-1.90" width="25.21" height="3.80" fill="#f2cb6a"/><rect x="48.51" y="-3.80" width="3.42" height="7.60" rx="1.52" fill="#f2cb6a"/></g>
<g transform="translate(642.7,486.2) rotate(90.0)"><rect x="26.72" y="-1.90" width="29.28" height="3.80" fill="#f2cb6a"/><rect x="52.58" y="-3.80" width="3.42" height="7.60" rx="1.52" fill="#f2cb6a"/></g>
<g transform="translate(642.7,486.2) rotate(112.5)"><rect x="26.72" y="-1.90" width="25.21" height="3.80" fill="#f2cb6a"/><rect x="48.51" y="-3.80" width="3.42" height="7.60" rx="1.52" fill="#f2cb6a"/></g>
<g transform="translate(642.7,486.2) rotate(135.0)"><rect x="26.72" y="-1.90" width="13.46" height="3.80" fill="#f2cb6a"/><rect x="36.76" y="-3.80" width="3.42" height="7.60" rx="1.52" fill="#f2cb6a"/></g>
<g transform="translate(642.7,486.2) rotate(157.5)"><rect x="26.72" y="-1.90" width="25.21" height="3.80" fill="#f2cb6a"/><rect x="48.51" y="-3.80" width="3.42" height="7.60" rx="1.52" fill="#f2cb6a"/></g>
<g transform="translate(642.7,486.2) rotate(180.0)"><rect x="26.72" y="-1.90" width="29.28" height="3.80" fill="#f2cb6a"/><rect x="52.58" y="-3.80" width="3.42" height="7.60" rx="1.52" fill="#f2cb6a"/></g>
<g transform="translate(642.7,486.2) rotate(202.5)"><rect x="26.72" y="-1.90" width="25.21" height="3.80" fill="#f2cb6a"/><rect x="48.51" y="-3.80" width="3.42" height="7.60" rx="1.52" fill="#f2cb6a"/></g>
<g transform="translate(642.7,486.2) rotate(225.0)"><rect x="26.72" y="-1.90" width="13.46" height="3.80" fill="#f2cb6a"/><rect x="36.76" y="-3.80" width="3.42" height="7.60" rx="1.52" fill="#f2cb6a"/></g>
<g transform="translate(642.7,486.2) rotate(247.5)"><rect x="26.72" y="-1.90" width="25.21" height="3.80" fill="#f2cb6a"/><rect x="48.51" y="-3.80" width="3.42" height="7.60" rx="1.52" fill="#f2cb6a"/></g>
<g transform="translate(642.7,486.2) rotate(270.0)"><rect x="26.72" y="-1.90" width="29.28" height="3.80" fill="#f2cb6a"/><rect x="52.58" y="-3.80" width="3.42" height="7.60" rx="1.52" fill="#f2cb6a"/></g>
<g transform="translate(642.7,486.2) rotate(292.5)"><rect x="26.72" y="-1.90" width="25.21" height="3.80" fill="#f2cb6a"/><rect x="48.51" y="-3.80" width="3.42" height="7.60" rx="1.52" fill="#f2cb6a"/></g>
<g transform="translate(642.7,486.2) rotate(315.0)"><rect x="26.72" y="-1.90" width="13.46" height="3.80" fill="#f2cb6a"/><rect x="36.76" y="-3.80" width="3.42" height="7.60" rx="1.52" fill="#f2cb6a"/></g>
<g transform="translate(642.7,486.2) rotate(337.5)"><rect x="26.72" y="-1.90" width="25.21" height="3.80" fill="#f2cb6a"/><rect x="48.51" y="-3.80" width="3.42" height="7.60" rx="1.52" fill="#f2cb6a"/></g>
<clipPath id="sac2"><circle cx="642.7" cy="486.2" r="33.4"/></clipPath>
<g clip-path="url(#sac2)">
<circle cx="642.7" cy="486.2" r="33.4" fill="#ef9a3c"/>
<path d="M605.96,476.18 C622.66,474.18 636.02,475.51 644.04,477.85 C654.39,482.19 662.74,490.21 668.42,502.23 L679.44,509.58 L679.44,449.46 L605.96,449.46 Z" fill="url(#sab)"/>
<path d="M611.64,476.18 C622.66,474.18 636.02,475.51 644.04,477.85 C654.39,482.19 662.74,490.21 668.42,502.23 C662.74,508.24 649.38,509.58 641.70,507.91 C631.01,504.57 622.66,494.55 611.64,476.18 Z" fill="#f3bf58"/>
<circle cx="642.7" cy="486.2" r="33.4" fill="url(#sarim)"/>
</g>
<path d="M622.0,473.4 L622.2,473.4 L622.5,473.3 L622.7,473.1 L623.0,472.8 L623.2,472.5 L623.5,472.0 L623.7,471.6 L624.0,471.0 L624.2,470.5 L624.5,469.8 L624.7,469.2 L625.0,468.5 L625.2,467.9 L625.5,467.2 L625.7,466.6 L626.0,466.0 L626.2,465.4 L626.5,464.9 L626.7,464.4 L627.0,464.0 L627.2,463.6 L627.5,463.4 L627.7,463.2 L628.0,463.1 L628.2,463.0 L628.4,463.1 L628.7,463.2 L628.9,463.5 L629.2,463.8 L629.4,464.2 L629.7,464.6 L629.9,465.1 L630.2,465.7 L630.4,466.3 L630.7,466.9 L630.9,467.6 L631.2,468.3 L631.4,469.0 L631.7,469.7 L631.9,470.4 L632.2,471.0 L632.4,471.6 L632.7,472.2 L632.9,472.7 L633.2,473.2 L633.4,473.5 L633.7,473.8 L633.9,474.1 L634.2,474.2 L634.4,474.3 L634.6,474.2 L634.9,474.1 L635.1,473.9 L635.4,473.7 L635.6,473.3 L635.9,472.9 L636.1,472.4 L636.4,471.9 L636.6,471.3 L636.9,470.7 L637.1,470.1 L637.4,469.4 L637.6,468.8 L637.9,468.1 L638.1,467.5 L638.4,466.9 L638.6,466.3 L638.9,465.7 L639.1,465.3 L639.4,464.9 L639.6,464.5 L639.9,464.2 L640.1,464.0 L640.4,463.9 L640.6,463.9 L640.8,464.0 L641.1,464.1 L641.3,464.3 L641.6,464.7 L641.8,465.0 L642.1,465.5 L642.3,466.0 L642.6,466.6 L642.8,467.2 L643.1,467.8 L643.3,468.5 L643.6,469.2 L643.8,469.9 L644.1,470.6 L644.3,471.2 L644.6,471.9 L644.8,472.5 L645.1,473.1 L645.3,473.6 L645.6,474.0 L645.8,474.4 L646.1,474.7 L646.3,474.9 L646.6,475.1 L646.8,475.1 L647.0,475.1 L647.3,475.0 L647.5,474.8 L647.8,474.6 L648.0,474.2 L648.3,473.8 L648.5,473.3 L648.8,472.8 L649.0,472.2 L649.3,471.6 L649.5,471.0 L649.8,470.3 L650.0,469.6 L650.3,469.0 L650.5,468.3 L650.8,467.7 L651.0,467.2 L651.3,466.6 L651.5,466.1 L651.8,465.7 L652.0,465.4 L652.3,465.1 L652.5,464.9 L652.8,464.8 L653.0,464.8 L653.2,464.8 L653.5,465.0 L653.7,465.2 L654.0,465.5 L654.2,465.9 L654.5,466.4 L654.7,466.9 L655.0,467.4 L655.2,468.0 L655.5,468.7 L655.7,469.4 L656.0,470.1 L656.2,470.8 L656.5,471.4 L656.7,472.1 L657.0,472.8 L657.2,473.4 L657.5,473.9 L657.7,474.5 L658.0,474.9 L658.2,475.3 L658.5,475.6 L658.7,475.8 L659.0,476.0 L659.2,476.0 L659.4,476.0 L659.7,475.9 L659.9,475.7 L660.2,475.4 L660.4,475.1 L660.7,474.7 L660.9,474.2 L661.2,473.7 L661.4,473.1 L661.7,472.5 L661.9,471.8 L662.2,471.2 L662.4,470.5 L662.7,469.9 L662.9,469.2 L663.2,468.6 L663.4,468.0 L663.7,467.5 L663.9,467.0 L664.2,466.6 L664.4,466.3 L664.7,466.0 L664.9,465.8 L665.2,465.7 L665.4,465.7 L665.6,465.7 L665.9,465.9 L666.1,466.1 L666.4,466.4 L666.6,466.8 L666.9,467.2 L667.1,467.7 L667.4,468.3 L667.6,468.9 L667.9,469.6 L668.1,470.2 L668.4,470.9 L668.6,471.6 L668.9,472.3 L669.1,473.0 L669.4,473.6 L669.6,474.3 L669.9,474.8 L670.1,475.3 L670.4,475.8 L670.6,476.2 L670.9,476.5 L671.1,476.7 L671.4,476.8 L671.6,476.9" fill="none" stroke="#4152a8" stroke-width="2" stroke-linecap="round"/>
<path d="M618.2,502.9 L618.4,502.9 L618.7,502.8 L618.9,502.6 L619.2,502.3 L619.4,502.0 L619.7,501.5 L619.9,501.1 L620.2,500.5 L620.4,500.0 L620.7,499.3 L620.9,498.7 L621.2,498.0 L621.4,497.4 L621.7,496.7 L621.9,496.1 L622.2,495.5 L622.4,494.9 L622.7,494.4 L622.9,493.9 L623.2,493.5 L623.4,493.1 L623.7,492.9 L623.9,492.7 L624.2,492.6 L624.4,492.5 L624.7,492.6 L624.9,492.7 L625.2,493.0 L625.4,493.3 L625.7,493.7 L625.9,494.1 L626.2,494.6 L626.4,495.2 L626.7,495.8 L626.9,496.4 L627.2,497.1 L627.4,497.8 L627.7,498.5 L627.9,499.2 L628.2,499.9 L628.4,500.5 L628.7,501.1 L628.9,501.7 L629.2,502.2 L629.4,502.7 L629.7,503.0 L629.9,503.3 L630.2,503.6 L630.4,503.7 L630.7,503.8 L630.9,503.7 L631.1,503.6 L631.4,503.4 L631.6,503.2 L631.9,502.8 L632.1,502.4 L632.4,501.9 L632.6,501.4 L632.9,500.8 L633.1,500.2 L633.4,499.6 L633.6,498.9 L633.9,498.3 L634.1,497.6 L634.4,497.0 L634.6,496.4 L634.9,495.8 L635.1,495.2 L635.4,494.8 L635.6,494.4 L635.9,494.0 L636.1,493.7 L636.4,493.5 L636.6,493.4 L636.9,493.4 L637.1,493.5 L637.4,493.6 L637.6,493.8 L637.9,494.2 L638.1,494.5 L638.4,495.0 L638.6,495.5 L638.9,496.1 L639.1,496.7 L639.4,497.3 L639.6,498.0 L639.9,498.7 L640.1,499.4 L640.4,500.1 L640.6,500.7 L640.9,501.4 L641.1,502.0 L641.4,502.6 L641.6,503.1 L641.9,503.5 L642.1,503.9 L642.4,504.2 L642.6,504.4 L642.9,504.6 L643.1,504.6 L643.3,504.6 L643.6,504.5 L643.8,504.3 L644.1,504.1 L644.3,503.7 L644.6,503.3 L644.8,502.8 L645.1,502.3 L645.3,501.7 L645.6,501.1 L645.8,500.5 L646.1,499.8 L646.3,499.1 L646.6,498.5 L646.8,497.8 L647.1,497.2 L647.3,496.7 L647.6,496.1 L647.8,495.6 L648.1,495.2 L648.3,494.9 L648.6,494.6 L648.8,494.4 L649.1,494.3 L649.3,494.3 L649.6,494.3 L649.8,494.5 L650.1,494.7 L650.3,495.0 L650.6,495.4 L650.8,495.9 L651.1,496.4 L651.3,496.9 L651.6,497.5 L651.8,498.2 L652.1,498.9 L652.3,499.6 L652.6,500.3 L652.8,500.9 L653.1,501.6 L653.3,502.3 L653.6,502.9 L653.8,503.4 L654.1,504.0 L654.3,504.4 L654.6,504.8 L654.8,505.1 L655.1,505.3 L655.3,505.5 L655.5,505.5 L655.8,505.5 L656.0,505.4 L656.3,505.2 L656.5,504.9 L656.8,504.6 L657.0,504.2 L657.3,503.7 L657.5,503.2 L657.8,502.6 L658.0,502.0 L658.3,501.3 L658.5,500.7 L658.8,500.0 L659.0,499.4 L659.3,498.7 L659.5,498.1 L659.8,497.5 L660.0,497.0 L660.3,496.5 L660.5,496.1 L660.8,495.8 L661.0,495.5 L661.3,495.3 L661.5,495.2 L661.8,495.2 L662.0,495.2 L662.3,495.4 L662.5,495.6 L662.8,495.9 L663.0,496.3 L663.3,496.7 L663.5,497.2 L663.8,497.8 L664.0,498.4 L664.3,499.1 L664.5,499.7 L664.8,500.4 L665.0,501.1 L665.3,501.8 L665.5,502.5 L665.8,503.1 L666.0,503.8 L666.3,504.3 L666.5,504.8 L666.8,505.3 L667.0,505.7 L667.3,506.0 L667.5,506.2 L667.8,506.3 L668.0,506.4" fill="none" stroke="#4152a8" stroke-width="2" stroke-linecap="round"/>
<path d="M739.69,431.81 L752.32,438.74 L744.17,446.64 L745.64,451.20 L738.47,458.28 L737.82,462.35 L721.78,474.57 L731.14,460.32 L729.52,456.08 L736.03,446.88 L734.81,443.62 Z" fill="#d50a0a" stroke="#d50a0a" stroke-width="0.4" stroke-linejoin="round"/>
<text x="757.2" y="463" class="b" font-size="23.3">980 nm</text>
<g transform="translate(732.50,484.30) rotate(0.000)"><rect x="0" y="-2.00" width="84.30" height="4.00" fill="#000"/><path d="M83.30,-5.40 L94.60,0 L83.30,5.40 Z" fill="#000"/></g>
<path d="M893.9,343.9 L904.5,344.1 L915.1,344.3 L925.7,344.1 L936.2,344.1 L946.8,344.5 L957.4,344.3 L968.0,343.6 L978.6,341.8 L984.9,339.4 L989.2,337.1 L991.3,333.7 L993.4,328.1 L995.5,317.9 L997.6,305.4 L999.7,293.0 L1001.9,281.7 L1004.0,270.4 L1006.1,247.8 L1007.6,220.7 L1008.9,212.6 L1010.3,216.2 L1011.6,232.0 L1013.1,245.6 L1014.6,250.5 L1016.7,248.9 L1018.8,245.6 L1020.9,244.4 L1023.0,241.0 L1025.2,240.6 L1027.3,245.1 L1029.4,253.5 L1031.5,262.5 L1033.6,270.4 L1035.7,279.5 L1037.9,288.5 L1040.0,297.5 L1042.1,306.6 L1044.2,315.6 L1046.3,324.7 L1048.4,331.0 L1050.6,334.8 L1054.8,338.2 L1059.0,340.5 L1063.3,341.8 L1073.8,343.6 L1084.4,343.4 L1095.0,343.0 L1099.2,343.2 L1101.4,343.6 L1103.5,340.9 L1105.6,340.5" fill="none" stroke="#e8262a" stroke-width="2" stroke-linejoin="round" /><rect x="893.9" y="187.9" width="211.69999999999993" height="161.70000000000002" fill="none" stroke="#222" stroke-width="1.6"/><line x1="893.9" y1="345.0" x2="896.9" y2="345.0" stroke="#222" stroke-width="1.2"/><text transform="translate(891.5,349.5) scale(1,1.07)" class="b" font-size="13.3" text-anchor="end">0</text><line x1="893.9" y1="299.8" x2="896.9" y2="299.8" stroke="#222" stroke-width="1.2"/><text transform="translate(891.5,304.3) scale(1,1.07)" class="b" font-size="13.3" text-anchor="end">2000</text><line x1="893.9" y1="254.6" x2="896.9" y2="254.6" stroke="#222" stroke-width="1.2"/><text transform="translate(891.5,259.1) scale(1,1.07)" class="b" font-size="13.3" text-anchor="end">4000</text><line x1="893.9" y1="209.4" x2="896.9" y2="209.4" stroke="#222" stroke-width="1.2"/><text transform="translate(891.5,213.9) scale(1,1.07)" class="b" font-size="13.3" text-anchor="end">6000</text><line x1="893.9" y1="349.6" x2="893.9" y2="346.6" stroke="#222" stroke-width="1.2"/><text transform="translate(893.9,363.6) scale(1,1.07)" class="b" font-size="13.3" text-anchor="middle">600</text><line x1="946.8" y1="349.6" x2="946.8" y2="346.6" stroke="#222" stroke-width="1.2"/><text transform="translate(946.8,363.6) scale(1,1.07)" class="b" font-size="13.3" text-anchor="middle">625</text><line x1="999.7" y1="349.6" x2="999.7" y2="346.6" stroke="#222" stroke-width="1.2"/><text transform="translate(999.7,363.6) scale(1,1.07)" class="b" font-size="13.3" text-anchor="middle">650</text><line x1="1052.7" y1="349.6" x2="1052.7" y2="346.6" stroke="#222" stroke-width="1.2"/><text transform="translate(1052.7,363.6) scale(1,1.07)" class="b" font-size="13.3" text-anchor="middle">675</text><line x1="1105.6" y1="349.6" x2="1105.6" y2="346.6" stroke="#222" stroke-width="1.2"/><text transform="translate(1105.6,363.6) scale(1,1.07)" class="b" font-size="13.3" text-anchor="middle">700</text><text x="999.8" y="378.8" class="b" font-size="13.6" text-anchor="middle">Wavelength (nm)</text><text transform="translate(862.4,278.2) rotate(-90)" class="b" font-size="15.6" text-anchor="middle">Fluorescence Intensity (a.u.)</text>
<path d="M894.2,549.7 L904.8,549.9 L915.4,550.1 L926.0,549.9 L936.6,549.9 L947.2,550.4 L957.9,550.1 L968.5,549.5 L979.1,547.7 L985.4,545.2 L989.7,542.9 L991.8,539.6 L993.9,533.9 L996.1,523.8 L998.2,511.4 L1000.3,499.1 L1002.4,487.8 L1004.5,476.6 L1006.7,454.1 L1008.2,427.1 L1009.4,419.0 L1010.9,422.6 L1012.2,438.4 L1013.7,451.9 L1015.2,456.8 L1017.3,455.2 L1019.4,451.9 L1021.5,450.7 L1023.6,447.4 L1025.8,446.9 L1027.9,451.4 L1030.0,459.7 L1032.1,468.7 L1034.3,476.6 L1036.4,485.6 L1038.5,494.6 L1040.6,503.6 L1042.7,512.6 L1044.9,521.6 L1047.0,530.6 L1049.1,536.9 L1051.2,540.7 L1055.5,544.1 L1059.7,546.3 L1064.0,547.7 L1074.6,549.5 L1085.2,549.2 L1095.8,548.8 L1100.0,549.0 L1102.2,549.5 L1104.3,546.8 L1106.4,546.3" fill="none" stroke="#e2303e" stroke-width="2" stroke-linejoin="round" stroke-dasharray="3.3 2.5"/><path d="M894.2,550.1 L915.4,550.2 L936.6,550.1 L947.2,550.3 L968.5,550.1 L979.1,549.4 L985.4,548.1 L989.7,545.1 L991.8,541.8 L993.9,537.2 L996.1,532.7 L998.2,530.5 L1000.3,528.2 L1002.4,525.9 L1004.5,521.4 L1006.7,510.1 L1008.2,499.9 L1009.2,497.0 L1010.5,501.1 L1012.0,507.9 L1014.1,512.4 L1016.2,512.4 L1019.4,511.2 L1023.6,509.0 L1025.8,508.8 L1027.9,510.6 L1030.0,514.6 L1032.1,518.0 L1034.3,521.4 L1036.4,524.8 L1038.5,528.2 L1040.6,531.6 L1042.7,536.1 L1044.9,540.6 L1047.0,544.0 L1051.2,546.7 L1055.5,548.1 L1064.0,549.0 L1085.2,549.9 L1106.4,549.7" fill="none" stroke="#1a1a1a" stroke-width="2" stroke-linejoin="round" /><rect x="894.2" y="392.9" width="212.20000000000005" height="162.30000000000007" fill="none" stroke="#222" stroke-width="1.6"/><line x1="894.2" y1="550.8" x2="897.2" y2="550.8" stroke="#222" stroke-width="1.2"/><text transform="translate(891.8,555.3) scale(1,1.07)" class="b" font-size="13.3" text-anchor="end">0</text><line x1="894.2" y1="505.6" x2="897.2" y2="505.6" stroke="#222" stroke-width="1.2"/><text transform="translate(891.8,510.1) scale(1,1.07)" class="b" font-size="13.3" text-anchor="end">2000</text><line x1="894.2" y1="460.4" x2="897.2" y2="460.4" stroke="#222" stroke-width="1.2"/><text transform="translate(891.8,464.9) scale(1,1.07)" class="b" font-size="13.3" text-anchor="end">4000</text><line x1="894.2" y1="415.2" x2="897.2" y2="415.2" stroke="#222" stroke-width="1.2"/><text transform="translate(891.8,419.7) scale(1,1.07)" class="b" font-size="13.3" text-anchor="end">6000</text><line x1="894.2" y1="555.2" x2="894.2" y2="552.2" stroke="#222" stroke-width="1.2"/><text transform="translate(894.2,569.2) scale(1,1.07)" class="b" font-size="13.3" text-anchor="middle">600</text><line x1="947.2" y1="555.2" x2="947.2" y2="552.2" stroke="#222" stroke-width="1.2"/><text transform="translate(947.2,569.2) scale(1,1.07)" class="b" font-size="13.3" text-anchor="middle">625</text><line x1="1000.3" y1="555.2" x2="1000.3" y2="552.2" stroke="#222" stroke-width="1.2"/><text transform="translate(1000.3,569.2) scale(1,1.07)" class="b" font-size="13.3" text-anchor="middle">650</text><line x1="1053.4" y1="555.2" x2="1053.4" y2="552.2" stroke="#222" stroke-width="1.2"/><text transform="translate(1053.4,569.2) scale(1,1.07)" class="b" font-size="13.3" text-anchor="middle">675</text><line x1="1106.4" y1="555.2" x2="1106.4" y2="552.2" stroke="#222" stroke-width="1.2"/><text transform="translate(1106.4,569.2) scale(1,1.07)" class="b" font-size="13.3" text-anchor="middle">700</text><text x="1000.3" y="584.4" class="b" font-size="13.6" text-anchor="middle">Wavelength (nm)</text><text transform="translate(862.7,483.6) rotate(-90)" class="b" font-size="15.6" text-anchor="middle">Fluorescence Intensity (a.u.)</text>
<g transform="translate(964.40,435.40) rotate(90.000)"><rect x="0" y="-1.60" width="67.00" height="3.20" fill="#ee1c1c"/><path d="M66.00,-5.40 L77.00,0 L66.00,5.40 Z" fill="#ee1c1c"/></g>
<circle cx="114" cy="641.5" r="18" fill="url(#gs)"/>
<circle cx="114" cy="641.5" r="18" fill="url(#grim)"/>
<text x="143.6" y="651.6" class="b" font-size="26">On-UCNPs</text>
<circle cx="305" cy="641.5" r="18.5" fill="url(#ks)"/>
<circle cx="305" cy="641.5" r="18.5" fill="url(#krim)"/>
<text x="335.6" y="651" class="b" font-size="25.8">Off-UCNPs</text>
<path d="M485.60,635.90 C487.73,635.90 489.07,647.20 491.20,647.20 C494.70,647.20 496.90,635.60 500.40,635.60 C503.10,635.60 504.80,647.20 507.50,647.20 C510.88,647.20 513.02,636.50 516.40,636.50 C519.90,636.50 522.10,647.50 525.60,647.50 C527.73,647.50 529.07,636.20 531.20,636.20 C534.92,636.20 537.28,648.10 541.00,648.10 C543.05,648.10 544.35,636.50 546.40,636.50" fill="none" stroke="#4a6cbc" stroke-width="2.3" stroke-linecap="round"/>
<text x="562" y="651" class="b" font-size="25">Aptamer</text>
<circle cx="687.8" cy="641.3" r="13.5" fill="#fcc000"/>
<text x="706.6" y="650.8" class="b" font-size="25.5">Fe<tspan font-size="16.5" dy="-8.6">2+</tspan></text>
<circle cx="790.5" cy="641.5" r="13.5" fill="#863d0f"/>
<text x="812.2" y="650.8" class="b" font-size="25.5">Fe<tspan font-size="16.5" dy="-8.6">3+</tspan></text>
<g transform="translate(896,640) rotate(0.0)"><rect x="10.80" y="-1.05" width="12.70" height="2.10" fill="#f2cb6a"/><rect x="21.61" y="-2.10" width="1.89" height="4.20" rx="0.84" fill="#f2cb6a"/></g>
<g transform="translate(896,640) rotate(22.5)"><rect x="10.80" y="-1.05" width="10.90" height="2.10" fill="#f2cb6a"/><rect x="19.81" y="-2.10" width="1.89" height="4.20" rx="0.84" fill="#f2cb6a"/></g>
<g transform="translate(896,640) rotate(45.0)"><rect x="10.80" y="-1.05" width="5.70" height="2.10" fill="#f2cb6a"/><rect x="14.61" y="-2.10" width="1.89" height="4.20" rx="0.84" fill="#f2cb6a"/></g>
<g transform="translate(896,640) rotate(67.5)"><rect x="10.80" y="-1.05" width="10.90" height="2.10" fill="#f2cb6a"/><rect x="19.81" y="-2.10" width="1.89" height="4.20" rx="0.84" fill="#f2cb6a"/></g>
<g transform="translate(896,640) rotate(90.0)"><rect x="10.80" y="-1.05" width="12.70" height="2.10" fill="#f2cb6a"/><rect x="21.61" y="-2.10" width="1.89" height="4.20" rx="0.84" fill="#f2cb6a"/></g>
<g transform="translate(896,640) rotate(112.5)"><rect x="10.80" y="-1.05" width="10.90" height="2.10" fill="#f2cb6a"/><rect x="19.81" y="-2.10" width="1.89" height="4.20" rx="0.84" fill="#f2cb6a"/></g>
<g transform="translate(896,640) rotate(135.0)"><rect x="10.80" y="-1.05" width="5.70" height="2.10" fill="#f2cb6a"/><rect x="14.61" y="-2.10" width="1.89" height="4.20" rx="0.84" fill="#f2cb6a"/></g>
<g transform="translate(896,640) rotate(157.5)"><rect x="10.80" y="-1.05" width="10.90" height="2.10" fill="#f2cb6a"/><rect x="19.81" y="-2.10" width="1.89" height="4.20" rx="0.84" fill="#f2cb6a"/></g>
<g transform="translate(896,640) rotate(180.0)"><rect x="10.80" y="-1.05" width="12.70" height="2.10" fill="#f2cb6a"/><rect x="21.61" y="-2.10" width="1.89" height="4.20" rx="0.84" fill="#f2cb6a"/></g>
<g transform="translate(896,640) rotate(202.5)"><rect x="10.80" y="-1.05" width="10.90" height="2.10" fill="#f2cb6a"/><rect x="19.81" y="-2.10" width="1.89" height="4.20" rx="0.84" fill="#f2cb6a"/></g>
<g transform="translate(896,640) rotate(225.0)"><rect x="10.80" y="-1.05" width="5.70" height="2.10" fill="#f2cb6a"/><rect x="14.61" y="-2.10" width="1.89" height="4.20" rx="0.84" fill="#f2cb6a"/></g>
<g transform="translate(896,640) rotate(247.5)"><rect x="10.80" y="-1.05" width="10.90" height="2.10" fill="#f2cb6a"/><rect x="19.81" y="-2.10" width="1.89" height="4.20" rx="0.84" fill="#f2cb6a"/></g>
<g transform="translate(896,640) rotate(270.0)"><rect x="10.80" y="-1.05" width="12.70" height="2.10" fill="#f2cb6a"/><rect x="21.61" y="-2.10" width="1.89" height="4.20" rx="0.84" fill="#f2cb6a"/></g>
<g transform="translate(896,640) rotate(292.5)"><rect x="10.80" y="-1.05" width="10.90" height="2.10" fill="#f2cb6a"/><rect x="19.81" y="-2.10" width="1.89" height="4.20" rx="0.84" fill="#f2cb6a"/></g>
<g transform="translate(896,640) rotate(315.0)"><rect x="10.80" y="-1.05" width="5.70" height="2.10" fill="#f2cb6a"/><rect x="14.61" y="-2.10" width="1.89" height="4.20" rx="0.84" fill="#f2cb6a"/></g>
<g transform="translate(896,640) rotate(337.5)"><rect x="10.80" y="-1.05" width="10.90" height="2.10" fill="#f2cb6a"/><rect x="19.81" y="-2.10" width="1.89" height="4.20" rx="0.84" fill="#f2cb6a"/></g>
<clipPath id="sac3"><circle cx="896" cy="640" r="13.5"/></clipPath>
<g clip-path="url(#sac3)">
<circle cx="896" cy="640" r="13.5" fill="#ef9a3c"/>
<path d="M881.15,635.95 C887.90,635.14 893.30,635.68 896.54,636.62 C900.73,638.38 904.10,641.62 906.39,646.48 L910.85,649.45 L910.85,625.15 L881.15,625.15 Z" fill="url(#sab)"/>
<path d="M883.45,635.95 C887.90,635.14 893.30,635.68 896.54,636.62 C900.73,638.38 904.10,641.62 906.39,646.48 C904.10,648.91 898.70,649.45 895.60,648.77 C891.27,647.42 887.90,643.38 883.45,635.95 Z" fill="#f3bf58"/>
<circle cx="896" cy="640" r="13.5" fill="url(#sarim)"/>
</g>
<text x="929.5" y="650.6" class="bi" font-size="25.7">S. aureus</text>
</svg>
</body></html>
